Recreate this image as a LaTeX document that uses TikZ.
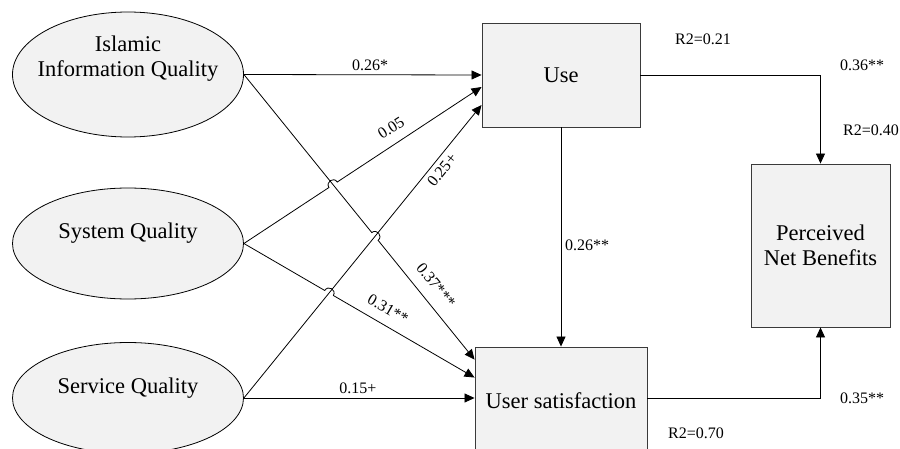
\documentclass[tikz,border=0pt]{standalone}
\usepackage{fontspec}
\setmainfont{Liberation Serif}
\usetikzlibrary{arrows.meta,calc,shapes.geometric,intersections}
\definecolor{boxfill}{HTML}{F2F2F2}
\definecolor{edgegray}{HTML}{3A3A3A}
\begin{document}
\begin{tikzpicture}[x=1pt,y=-1pt,
  ell/.style={ellipse,draw=black,fill=boxfill,line width=0.8pt,minimum width=231pt,inner sep=0pt},
  boxn/.style={rectangle,draw=edgegray,fill=boxfill,line width=0.9pt,inner sep=0pt},
  big/.style={font=\fontsize{22.5}{25}\selectfont,align=center,inner sep=0pt},
  lab/.style={font=\fontsize{16}{19}\selectfont,inner sep=0pt},
  conn/.style={line width=0.8pt,-{Triangle[length=10pt,width=9pt]}},
  jump/.style={bend left=90,looseness=1.7}
]
\useasboundingbox (0,0) rectangle (900,449);

% ellipses (exogenous constructs)
\node[ell,minimum height=125pt] (iiq) at (128,74.5) {};
\node[big] (iiqt) at (128,59) {Islamic\\Information Quality};
\node[ell,minimum height=111pt] (sq) at (128,243.5) {};
\node[big] (sqt) at (128,233) {System Quality};
\node[ell,minimum height=111pt] (svq) at (128,398) {};
\node[big] (svqt) at (128,388) {Service Quality};

% boxes
\node[boxn,big,minimum width=158pt,minimum height=104pt] (use) at (561,75) {Use};
\node[boxn,big,minimum width=172pt,minimum height=108pt] (us) at (561,401) {User satisfaction};
\node[boxn,big,minimum width=139pt,minimum height=163pt] (pnb) at (820.5,245.5) {Perceived\\Net Benefits};

% entry points
\coordinate (useA) at ($(use.west)+(0,12)$);
\coordinate (useB) at ($(use.west)+(0,30)$);
\coordinate (usA) at ($(us.north west)+(0,13)$);
\coordinate (usB) at ($(us.north west)+(0,31)$);
\coordinate (usC) at (svq.east -| us.west);
\coordinate (usR) at (svq.east -| us.east);

% helper paths for crossings
\path[name path=p1] (iiq.east) -- (usA);
\path[name path=p2] (sq.east) -- (useA);
\path[name path=p3] (svq.east) -- (useB);
\path[name path=p4] (sq.east) -- (usB);
\path[name intersections={of=p1 and p2,by=xa}];
\path[name intersections={of=p1 and p3,by=xb}];
\path[name intersections={of=p4 and p3,by=xc}];

% connectors
\draw[conn] (iiq.east) -- (use.west);
\draw[conn] (sq.east) -- ($(xa)!5pt!(sq.east)$) to[jump] ($(xa)!5pt!(useA)$) -- (useA);
\draw[conn] (svq.east) -- (useB);
\draw[conn] (iiq.east) -- ($(xb)!5pt!(iiq.east)$) to[jump] ($(xb)!5pt!(usA)$) -- (usA);
\draw[conn] (sq.east) -- ($(xc)!5pt!(sq.east)$) to[jump] ($(xc)!5pt!(usB)$) -- (usB);
\draw[conn] (svq.east) -- (usC);
\draw[conn] (use.south) -- (us.north);
\draw[conn] (use.east) -| (pnb.north);
\draw[conn] (usR) -| (pnb.south);

% path coefficients
\node[lab] (l1) at (370,65) {0.26*};
\node[lab,rotate=33] (l2) at (391,128) {0.05};
\node[lab,rotate=51] (l3) at (442,170) {0.25+};
\node[lab,rotate=-51] (l4) at (436,285) {0.37***};
\node[lab,rotate=-30] (l5) at (388,309) {0.31**};
\node[lab] (l6) at (358,388) {0.15+};
\node[lab] (l7) at (587,245) {0.26**};
\node[lab] (l8) at (862,65) {0.36**};
\node[lab] (l9) at (862,398) {0.35**};
\node[lab] (r1) at (703,39) {R2=0.21};
\node[lab] (r2) at (871,130) {R2=0.40};
\node[lab] (r3) at (696,433) {R2=0.70};
\end{tikzpicture}
\end{document}
